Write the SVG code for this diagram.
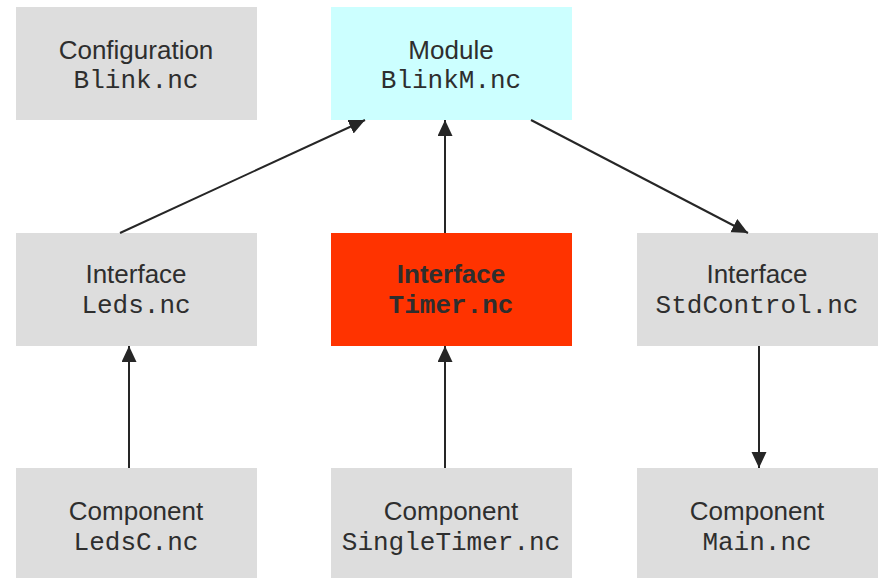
<svg xmlns="http://www.w3.org/2000/svg" width="879" height="578" viewBox="0 0 879 578">
  <defs>
    <marker id="arrow" markerUnits="userSpaceOnUse" markerWidth="18" markerHeight="16" refX="16" refY="7.5" orient="auto">
      <path d="M0,0 L16,7.5 L0,15 Z" fill="#262626"/>
    </marker>
  </defs>
  <style>
    .box { fill: #dddddd; }
    .module { fill: #ccffff; }
    .hot { fill: #ff3300; }
    .kind { font-family: "Liberation Sans", Arial, sans-serif; font-size: 26px; fill: #2e2e2e; text-anchor: middle; }
    .file { font-family: "Liberation Mono", "Courier New", monospace; font-size: 26px; fill: #2e2e2e; text-anchor: middle; }
    .bold { font-weight: bold; }
    .edge { stroke: #262626; stroke-width: 2; fill: none; marker-end: url(#arrow); }
  </style>
  <rect width="879" height="578" fill="#ffffff"/>

  <g id="configuration-blink">
    <rect class="box" x="16" y="7" width="241" height="113"/>
    <text class="kind" x="136" y="59">Configuration</text>
    <text class="file" x="136" y="88">Blink.nc</text>
  </g>
  <g id="module-blinkm">
    <rect class="module" x="331" y="7" width="241" height="113"/>
    <text class="kind" x="451" y="59">Module</text>
    <text class="file" x="451" y="88">BlinkM.nc</text>
  </g>

  <g id="interface-leds">
    <rect class="box" x="16" y="233" width="241" height="113"/>
    <text class="kind" x="136" y="283">Interface</text>
    <text class="file" x="136" y="313">Leds.nc</text>
  </g>
  <g id="interface-timer">
    <rect class="hot" x="331" y="233" width="241" height="113"/>
    <text class="kind bold" x="451" y="283">Interface</text>
    <text class="file bold" x="451" y="313">Timer.nc</text>
  </g>
  <g id="interface-stdcontrol">
    <rect class="box" x="637" y="233" width="241" height="113"/>
    <text class="kind" x="757" y="283">Interface</text>
    <text class="file" x="757" y="313">StdControl.nc</text>
  </g>

  <g id="component-ledsc">
    <rect class="box" x="16" y="468" width="241" height="110"/>
    <text class="kind" x="136" y="520">Component</text>
    <text class="file" x="136" y="550">LedsC.nc</text>
  </g>
  <g id="component-singletimer">
    <rect class="box" x="331" y="468" width="241" height="110"/>
    <text class="kind" x="451" y="520">Component</text>
    <text class="file" x="451" y="550">SingleTimer.nc</text>
  </g>
  <g id="component-main">
    <rect class="box" x="637" y="468" width="241" height="110"/>
    <text class="kind" x="757" y="520">Component</text>
    <text class="file" x="757" y="550">Main.nc</text>
  </g>

  <g id="connectors">
    <path class="edge" d="M120,233 L365,120"/>
    <path class="edge" d="M445,233 L445,120"/>
    <path class="edge" d="M531,120 L748,233"/>
    <path class="edge" d="M129,468 L129,346"/>
    <path class="edge" d="M445,468 L445,346"/>
    <path class="edge" d="M759,346 L759,468"/>
  </g>
</svg>
